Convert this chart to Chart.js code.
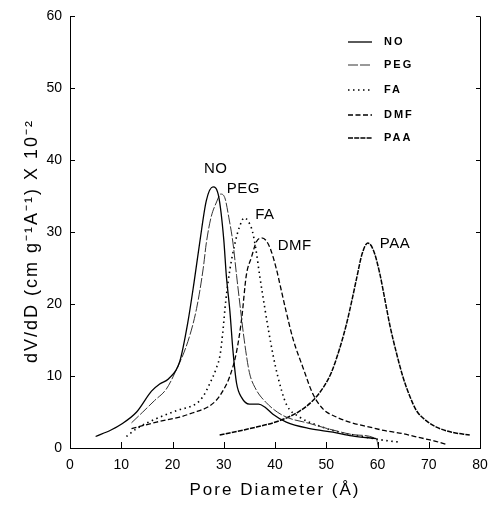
<!DOCTYPE html>
<html>
<head>
<meta charset="utf-8">
<script src="https://cdn.jsdelivr.net/npm/chart.js@4.4.0/dist/chart.umd.min.js"></script>
<style>
  html, body { margin: 0; padding: 0; background: #fff; }
</style>
</head>
<body>
<canvas id="poreChart" width="502" height="509"></canvas>
<script>
// Series names
const seriesNames = ['NO', 'PEG', 'FA', 'DMF', 'PAA'];

// Pore diameter (A) / dV/dD values
const noX = [5, 8, 10, 13, 15.9, 17.5, 19.2, 21.4, 23, 24.2, 25.3, 26.6, 27.9, 29, 30, 30.5, 31.2, 31.8, 32.5, 33.5, 35, 36.8, 38, 39.6, 42.2, 46.8, 51.3, 55, 59.8];
const noY = [1.6, 2.5, 3.3, 5, 7.9, 8.9, 9.6, 12, 17.5, 23, 28.5, 34.4, 36.3, 35, 29, 24, 19, 13.5, 9, 7, 6.1, 6.1, 5.7, 4.7, 3.6, 2.7, 2.2, 1.7, 1.3];

const pegX = [12, 14.2, 16.5, 18.8, 20.5, 23, 24.7, 26, 26.6, 27.5, 28.6, 29.4, 30.2, 31, 31.8, 32.5, 33.1, 34, 35, 36.1, 38.3, 41.6, 46.8, 51.3, 56, 59.8, 60.2];
const pegY = [3.5, 5, 6.6, 8.2, 10.5, 14.8, 19.4, 25, 28.5, 32, 34.2, 35.3, 34.8, 32, 28.5, 24, 20.3, 15, 10.5, 8.4, 6.3, 4.5, 3.4, 2.5, 1.8, 1.2, 0];

const faX = [11, 13, 16.9, 20.8, 24.7, 26, 27.3, 28.5, 29.3, 29.8, 30.4, 31.2, 32.2, 33.1, 34, 34.8, 35.6, 36.3, 37, 38, 38.7, 39.6, 40.6, 42.2, 44.8, 48.1, 52, 57, 61, 64.5];
const faY = [1.6, 2.7, 4.1, 5.2, 6.2, 7.2, 9, 11, 13, 16, 20.5, 24.8, 28.5, 30.8, 32, 31.5, 30.1, 27.5, 24, 19.5, 16.5, 13, 9.8, 6.1, 4.3, 3.2, 2.3, 1.6, 1.1, 0.8];

const dmfX = [12, 16.9, 21.4, 24, 26.9, 28.5, 29.8, 31.2, 32.5, 33.5, 34.4, 35.4, 36.4, 37.4, 38.3, 39.2, 40.3, 41.2, 42.2, 43.5, 45.5, 47.4, 49.4, 52, 55, 58.5, 61.5, 64.9, 68.5, 71, 73.4];
const dmfY = [2.7, 3.6, 4.3, 4.9, 5.7, 6.6, 7.9, 10, 13.4, 18, 24, 26.5, 28.7, 29.2, 28.8, 27.5, 24.8, 22, 18.9, 15.2, 11.1, 7.5, 5.4, 4.3, 3.5, 2.9, 2.4, 2, 1.4, 1.0, 0.5];

const paaX = [29.2, 35.1, 40.9, 44.5, 47.4, 49.5, 51, 52.6, 53.9, 55, 55.9, 57, 58.1, 59.2, 60.4, 61.4, 62.4, 63.7, 65, 66.3, 67.6, 69.5, 71.5, 74.5, 78];
const paaY = [1.8, 2.7, 3.8, 5, 6.6, 8.5, 10.5, 13.8, 17.1, 20.5, 23.5, 27, 28.5, 27.5, 24.4, 20.8, 17.1, 13.2, 9.8, 7.2, 5.2, 3.8, 2.9, 2.2, 1.8];

// Axis ticks
const xTicks = [0, 10, 20, 30, 40, 50, 60, 70, 80];
const yTicks = [0, 10, 20, 30, 40, 50, 60];

const xTitle = 'Pore Diameter (Å)';
const yTitle = 'dV/dD (cm g⁻¹A⁻¹) X 10⁻²';

const toPoints = (xs, ys) => xs.map((x, i) => ({ x: x, y: ys[i] }));

// line style per series
const styles = [
  { width: 1.3, dash: [], color: '#000' },
  { width: 1, dash: [10, 2], color: '#333' },
  { width: 1.6, dash: [1.5, 3.5], color: '#000' },
  { width: 1.3, dash: [5, 2.5], color: '#000' },
  { width: 1.5, dash: [5, 1.2], color: '#000' }
];

const allX = [noX, pegX, faX, dmfX, paaX];
const allY = [noY, pegY, faY, dmfY, paaY];

const datasets = seriesNames.map((name, i) => ({
  label: name,
  data: toPoints(allX[i], allY[i]),
  borderColor: styles[i].color,
  borderWidth: styles[i].width,
  borderDash: styles[i].dash,
  pointRadius: 0,
  fill: false,
  cubicInterpolationMode: 'monotone'
}));

const FONT = '"Liberation Sans", Arial, sans-serif';

// Frame, inward ticks, axis titles, legend and peak labels
const decorPlugin = {
  id: 'decor',
  afterDraw(chart) {
    const { ctx, chartArea: a, scales: { x, y } } = chart;
    ctx.save();
    ctx.strokeStyle = '#000';
    ctx.lineWidth = 1;
    ctx.setLineDash([]);
    ctx.beginPath();
    ctx.moveTo(a.right + 0.5, a.top);
    ctx.lineTo(a.right + 0.5, a.bottom);
    xTicks.forEach(v => {
      const px = Math.round(x.getPixelForValue(v)) + 0.5;
      ctx.moveTo(px, a.bottom);
      ctx.lineTo(px, a.bottom - 6);
    });
    yTicks.forEach(v => {
      const py = Math.round(y.getPixelForValue(v)) + 0.5;
      ctx.moveTo(a.left, py);
      ctx.lineTo(a.left + 5, py);
      ctx.moveTo(a.right, py);
      ctx.lineTo(a.right - 4, py);
    });
    ctx.stroke();

    // axis titles
    ctx.fillStyle = '#000';
    ctx.textAlign = 'center';
    ctx.textBaseline = 'middle';
    ctx.font = '17px ' + FONT;
    ctx.letterSpacing = '2px';
    ctx.fillText(xTitle, (a.left + a.right) / 2, 490);
    ctx.save();
    ctx.translate(32, 241);
    ctx.rotate(-Math.PI / 2);
    ctx.font = '18px ' + FONT;
    ctx.fillText(yTitle, 0, 0);
    ctx.restore();

    // legend (top right)
    const rows = [42, 65, 90, 115, 138];
    ctx.textAlign = 'left';
    ctx.font = 'bold 11px ' + FONT;
    ctx.letterSpacing = '2px';
    seriesNames.forEach((name, i) => {
      ctx.beginPath();
      ctx.lineWidth = styles[i].width;
      ctx.strokeStyle = styles[i].color;
      ctx.setLineDash(styles[i].dash);
      ctx.moveTo(348, rows[i]);
      ctx.lineTo(372, rows[i]);
      ctx.stroke();
      ctx.fillText(name, 384, rows[i]);
    });

    // labels next to each peak
    const offsets = [[-9, -18], [6, -5], [11, -3], [16, 8], [12, 1]];
    ctx.font = '15px ' + FONT;
    ctx.letterSpacing = '0.5px';
    seriesNames.forEach((name, i) => {
      const ys = allY[i];
      const k = ys.indexOf(Math.max(...ys));
      const px = x.getPixelForValue(allX[i][k]);
      const py = y.getPixelForValue(ys[k]);
      ctx.fillText(name, px + offsets[i][0], py + offsets[i][1]);
    });
    ctx.restore();
  }
};

const ctx = document.getElementById('poreChart').getContext('2d');
new Chart(ctx, {
  type: 'line',
  data: { datasets: datasets },
  options: {
    responsive: false,
    animation: false,
    layout: { padding: { left: 0, top: 10, right: 22, bottom: 0 } },
    plugins: {
      legend: { display: false },
      tooltip: { enabled: false }
    },
    scales: {
      x: {
        type: 'linear',
        min: 0,
        max: 80,
        afterBuildTicks: s => { s.ticks = xTicks.map(v => ({ value: v })); },
        afterFit: s => { s.height = 61; },
        ticks: { color: '#000', padding: 9, font: { family: FONT, size: 14 } },
        grid: { display: true, drawOnChartArea: false, drawTicks: false },
        border: { display: true, color: '#000', width: 1 }
      },
      y: {
        min: 0,
        max: 60,
        afterBuildTicks: s => { s.ticks = yTicks.map(v => ({ value: v })); },
        afterFit: s => { s.width = 70; },
        ticks: { color: '#000', padding: 8, font: { family: FONT, size: 14 } },
        grid: { display: true, drawOnChartArea: false, drawTicks: false },
        border: { display: true, color: '#000', width: 1 }
      }
    }
  },
  plugins: [decorPlugin]
});
</script>
</body>
</html>
